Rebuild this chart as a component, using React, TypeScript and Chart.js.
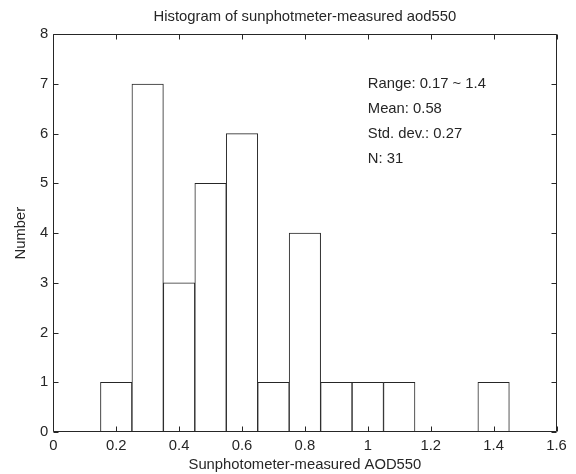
import React, { useEffect, useRef } from "react";
import { Chart, registerables } from "chart.js";

Chart.register(...registerables);

const binCenters = [0.2, 0.3, 0.4, 0.5, 0.6, 0.7, 0.8, 0.9, 1.0, 1.1, 1.2, 1.3, 1.4];
const counts = [1, 7, 3, 5, 6, 1, 4, 1, 1, 1, 0, 0, 1];
const xTicks = [0, 0.2, 0.4, 0.6, 0.8, 1, 1.2, 1.4, 1.6];
const yTicks = [0, 1, 2, 3, 4, 5, 6, 7, 8];
const statLabels = ["Range: 0.17 ~ 1.4", "Mean: 0.58", "Std. dev.: 0.27", "N: 31"];
const statX = 1.0;
const statY = [7, 6.5, 6, 5.5];

const titleText = "Histogram of sunphotmeter-measured aod550";
const xTitle = "Sunphotometer-measured AOD550";
const yTitle = "Number";

const FONT = "'Liberation Sans', Arial, sans-serif";
const FS = 14.8;
const INK = "#262626";

const boxPlugin = {
  id: "matlabBox",
  afterDatasetsDraw(chart: any) {
    const { ctx, chartArea } = chart;
    const { left, right, top, bottom } = chartArea;
    const xs = chart.scales.x;
    const ys = chart.scales.y;
    ctx.save();
    ctx.strokeStyle = INK;
    ctx.lineWidth = 1;
    const L = Math.round(left) + 0.5;
    const R = Math.round(right) - 0.5;
    const T = Math.round(top) + 0.5;
    const B = Math.round(bottom) - 0.5;
    ctx.beginPath();
    ctx.rect(L, T, R - L, B - T);
    ctx.stroke();
    const tl = 5;
    ctx.beginPath();
    xTicks.forEach((v) => {
      const px = Math.round(xs.getPixelForValue(v)) + 0.5;
      ctx.moveTo(px, B);
      ctx.lineTo(px, B - tl);
      ctx.moveTo(px, T);
      ctx.lineTo(px, T + tl);
    });
    yTicks.forEach((v) => {
      const py = Math.round(ys.getPixelForValue(v)) + 0.5;
      ctx.moveTo(L, py);
      ctx.lineTo(L + tl, py);
      ctx.moveTo(R, py);
      ctx.lineTo(R - tl, py);
    });
    ctx.stroke();
    ctx.fillStyle = INK;
    ctx.font = `${FS}px ${FONT}`;
    ctx.textAlign = "left";
    ctx.textBaseline = "middle";
    statLabels.forEach((s, i) => {
      ctx.fillText(s, xs.getPixelForValue(statX), ys.getPixelForValue(statY[i]));
    });
    ctx.restore();
  },
};

export default function App() {
  const ref = useRef<HTMLCanvasElement | null>(null);
  useEffect(() => {
    document.body.style.margin = "0";
    const canvas = ref.current!;
    const chart = new Chart(canvas, {
      type: "bar",
      data: {
        datasets: [
          {
            data: binCenters.map((x, i) => ({ x, y: counts[i] })),
            backgroundColor: "#ffffff",
            borderColor: INK,
            borderWidth: 1,
            borderSkipped: false,
            barPercentage: 1,
            categoryPercentage: 1,
          } as any,
        ],
      },
      options: {
        responsive: false,
        animation: false,
        layout: { padding: { left: 0, right: 19.5, top: 0, bottom: 0 } },
        plugins: {
          legend: { display: false },
          tooltip: { enabled: false },
          title: {
            display: true,
            fullSize: false,
            text: titleText,
            color: INK,
            font: { family: FONT, size: FS, weight: "normal" },
            padding: { top: 7.9, bottom: 8.6 },
          },
        },
        scales: {
          x: {
            type: "linear",
            min: 0,
            max: 1.6,
            offset: false,
            grid: { display: false, drawTicks: false },
            border: { display: false },
            afterBuildTicks(scale: any) {
              scale.ticks = xTicks.map((v) => ({ value: v }));
            },
            afterFit(scale: any) {
              scale.height = 42;
            },
            ticks: {
              color: INK,
              font: { family: FONT, size: FS },
              padding: 5.5,
              maxRotation: 0,
              autoSkip: false,
              callback: (v: any) => String(Math.round(Number(v) * 10) / 10),
            },
            title: {
              display: true,
              text: xTitle,
              color: INK,
              font: { family: FONT, size: FS },
              padding: { top: 0, bottom: 0.1 },
            },
          },
          y: {
            type: "linear",
            min: 0,
            max: 8,
            grid: { display: false, drawTicks: false },
            border: { display: false },
            afterBuildTicks(scale: any) {
              scale.ticks = yTicks.map((v) => ({ value: v }));
            },
            afterFit(scale: any) {
              scale.width = 53.3;
            },
            ticks: {
              color: INK,
              font: { family: FONT, size: FS },
              padding: 5,
              autoSkip: false,
            },
            title: {
              display: true,
              text: yTitle,
              color: INK,
              font: { family: FONT, size: FS },
              padding: { top: 12, bottom: 0 },
            },
          },
        },
      },
      plugins: [boxPlugin],
    });
    return () => chart.destroy();
  }, []);
  return (
    <div style={{ position: "absolute", left: 0, top: 0, width: 576, height: 474 }}>
      <canvas ref={ref} width={576} height={474} style={{ width: 576, height: 474 }} />
    </div>
  );
}
